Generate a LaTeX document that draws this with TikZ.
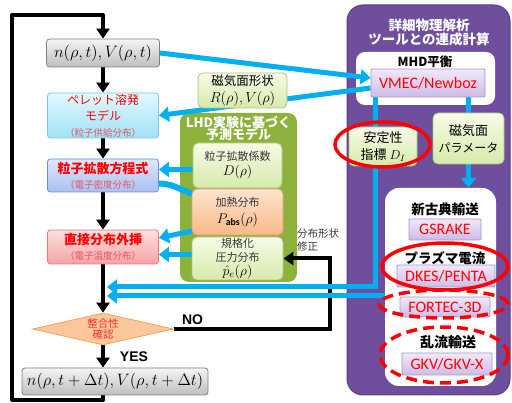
\RequirePackage{fix-cm}
\documentclass[tikz,border=0pt]{standalone}
\usepackage{fontspec}
\setmainfont{Carlito}
\newfontfamily\jp{Noto Sans CJK JP}
\newfontfamily\arialf{Liberation Sans}
\usetikzlibrary{shapes.geometric,arrows.meta}
\pgfdeclarelayer{back}\pgfdeclarelayer{mid}
\pgfsetlayers{back,mid,main}
\definecolor{blu}{RGB}{0,176,240}
\definecolor{purp}{RGB}{112,78,158}
\definecolor{purpd}{RGB}{92,62,130}
\definecolor{olive}{RGB}{140,178,60}
\definecolor{redt}{RGB}{255,0,0}
\definecolor{redp}{RGB}{232,84,96}
\definecolor{txt}{RGB}{55,55,55}
\newcommand\fz[2]{\fontsize{#1}{#2}\selectfont\lineskiplimit=-20pt\relax}
\begin{document}
\begin{tikzpicture}[x=1pt,y=-1pt,
  box/.style={draw, rounded corners=3pt, line width=0.8pt, align=center, inner sep=0pt},
  graybox/.style={box, draw={rgb,255:red,128;green,128;blue,128}, top color={rgb,255:red,244;green,244;blue,244}, bottom color={rgb,255:red,190;green,190;blue,190}},
  cyanbox/.style={box, draw={rgb,255:red,120;green,200;blue,230}, top color={rgb,255:red,226;green,248;blue,253}, bottom color={rgb,255:red,160;green,226;blue,246}},
  bluebox/.style={box, draw={rgb,255:red,110;green,140;blue,214}, top color={rgb,255:red,222;green,231;blue,251}, bottom color={rgb,255:red,170;green,192;blue,240}},
  pinkbox/.style={box, draw={rgb,255:red,224;green,122;blue,122}, top color={rgb,255:red,253;green,224;blue,224}, bottom color={rgb,255:red,245;green,163;blue,163}},
  greenbox/.style={box, rounded corners=5pt, draw={rgb,255:red,168;green,200;blue,110}, top color={rgb,255:red,246;green,251;blue,232}, bottom color={rgb,255:red,214;green,234;blue,170}},
  peachbox/.style={box, rounded corners=5pt, draw={rgb,255:red,232;green,160;blue,110}, top color={rgb,255:red,253;green,228;blue,206}, bottom color={rgb,255:red,248;green,184;blue,136}},
  toolbox/.style={box, rounded corners=1pt, draw={rgb,255:red,168;green,148;blue,200}, top color={rgb,255:red,240;green,232;blue,250}, bottom color={rgb,255:red,204;green,188;blue,230}, text=redt, font=\fz{16}{18}},
  blk/.style={line width=4pt, draw=black},
  blkarr/.style={blk, -{Triangle[width=13pt,length=10pt]}},
  bl/.style={line width=5pt, draw=blu},
  blarr/.style={bl, -{Triangle[width=15pt,length=10pt]}},
  ring/.style={ellipse, draw=redt, line width=3.5pt, inner sep=0pt},
  dring/.style={ring, dash pattern=on 11pt off 6pt},
  lbl/.style={font=\jp\bfseries\fz{13.5}{15}, inner sep=0pt}
]
\useasboundingbox (0,0) rectangle (512,403);

% containers
\begin{pgfonlayer}{back}
\node[fill=purp, draw=purpd, line width=1pt, rounded corners=16pt, minimum width=163pt, minimum height=390pt, inner sep=0pt] (tools) at (428.5,200) {};
\node[fill=white, rounded corners=9pt, minimum width=139pt, minimum height=53pt, inner sep=0pt] (mhdw) at (425.5,78.5) {};
\node[fill=white, rounded corners=14pt, minimum width=111pt, minimum height=198pt, inner sep=0pt] (lowerw) at (440.5,287) {};
\node[fill=olive, rounded corners=9pt, minimum width=117pt, minimum height=169pt, inner sep=0pt] (lhd) at (238.5,197.5) {};
\end{pgfonlayer}

\node[font=\jp\bfseries\fz{13.5}{14}, text=white, align=center, inner sep=0pt] (ttl) at (429,32) {詳細物理解析\\ツールとの連成計算};
\node[font=\jp\bfseries\fz{13}{12.5}, text=white, align=center, inner sep=0pt] (lhdt) at (238.5,128.5) {LHD実験に基づく\\予測モデル};
\node[font=\jp\bfseries\fz{12.5}{13}, inner sep=0pt] (mhdt) at (425,62) {MHD平衡};

% left column
\node[graybox, minimum width=113pt, minimum height=28pt, font=\fz{16.5}{18}] (nbox) at (103,53) {$n(\rho,t),V(\rho,t)$};
\node[cyanbox, minimum width=111pt, minimum height=45pt, font=\jp\fz{12}{16}, text=redt] (pellet) at (103,115.5) {ペレット溶発\\モデル\\\textcolor{redp}{\fz{9.5}{16}（粒子供給分布）}};
\node[bluebox, minimum width=111pt, minimum height=33pt, font=\jp\bfseries\fz{13}{15}, text=redt] (diff) at (103,175.5) {粒子拡散方程式\\\textcolor{redp}{\mdseries\fz{9.5}{15}（電子密度分布）}};
\node[pinkbox, minimum width=111pt, minimum height=34pt, font=\jp\bfseries\fz{13}{15}, text=redt] (extrap) at (103,247) {直接分布外挿\\\textcolor{redp}{\mdseries\fz{9.5}{15}（電子温度分布）}};
\node[diamond, aspect=4.4, draw={rgb,255:red,240;green,160;blue,100}, fill={rgb,255:red,252;green,200;blue,155}, line width=0.8pt, minimum width=141pt, minimum height=32pt, inner sep=0pt, font=\jp\fz{10.5}{11.5}, text={rgb,255:red,240;green,50;blue,50}, align=center] (dia) at (103,329) {整合性\\確認};
\node[graybox, minimum width=186pt, minimum height=27pt, font=\fz{16.5}{18}] (bot) at (115,381.5) {$n(\rho,t+\Delta t),V(\rho,t+\Delta t)$};

\node[font=\arialf\bfseries\fz{14}{16}, inner sep=0pt] (no) at (192.5,320) {NO};
\node[font=\arialf\bfseries\fz{14}{16}, inner sep=0pt] (yes) at (134,357) {YES};

% middle column
\node[greenbox, minimum width=89pt, minimum height=35pt, font=\jp\fz{12.5}{17}] (mag) at (242.5,90.5) {磁気面形状\\{\fz{14.5}{17}$R(\rho),V(\rho)$}};
\node[greenbox, minimum width=89pt, minimum height=45pt, font=\jp\fz{11}{15}, text=txt] (dco) at (237.5,165.5) {粒子拡散係数\\{\color{black}\fz{14}{15}$D(\rho)$}};
\node[peachbox, minimum width=91pt, minimum height=46pt, font=\jp\fz{11}{17}, text=txt] (pabs) at (237.5,212) {加熱分布\\{\color{black}\fz{14}{17}$P_{\mathbf{abs}}(\rho)$}};
\node[greenbox, minimum width=91pt, minimum height=43pt, font=\jp\fz{11}{14}, text=txt] (pe) at (237.5,258.5) {規格化\\圧力分布\\{\color{black}\fz{14}{14}$\hat{p}_e(\rho)$}};
\node[font=\jp\fz{10.5}{13}, text=txt, align=left, anchor=west, inner sep=0pt] (shape) at (297,240.5) {分布形状\\修正};

% right column
\node[toolbox, minimum width=114pt, minimum height=28pt] (vmec) at (428,83) {VMEC/Newboz};
\node[greenbox, minimum width=68pt, minimum height=39pt, font=\jp\fz{13}{17}] (stab) at (383,146.5) {安定性\\指標 {\fz{13}{17}$D_I$}};
\node[greenbox, minimum width=71pt, minimum height=51pt, font=\jp\fz{13}{17}] (magp) at (468.5,138.5) {磁気面\\{\fz{12}{17}パラメータ}};
\node[lbl] (neo) at (445,209) {新古典輸送};
\node[toolbox, minimum width=72pt, minimum height=21pt] (gsr) at (445,229.5) {GSRAKE};
\node[lbl] (pcur) at (445,258) {プラズマ電流};
\node[toolbox, minimum width=98pt, minimum height=22pt] (dkes) at (446,276) {DKES/PENTA};
\node[toolbox, minimum width=90pt, minimum height=20pt] (fort) at (445,307) {FORTEC-3D};
\node[lbl, font=\jp\bfseries\fz{14}{15}] (turb) at (448,342) {乱流輸送};
\node[toolbox, minimum width=90pt, minimum height=22pt] (gkv) at (447,364) {GKV/GKV-X};

% rings
\node[ring, minimum width=95pt, minimum height=45pt] (ring1) at (382.5,144.5) {};
\node[ring, minimum width=126pt, minimum height=47pt] (ring2) at (445,266.5) {};
\node[dring, minimum width=129pt, minimum height=28pt] (ring3) at (443.5,304) {};
\node[dring, minimum width=128pt, minimum height=56pt] (ring4) at (444,355) {};

% coordinates
\coordinate (lb) at (12,400);
\coordinate (lt) at (12,15);
\coordinate (fb) at (330,329);
\coordinate (ub) at (375,287);
\coordinate (lw) at (385,296);
\coordinate (tipx) at (107,0);

\begin{pgfonlayer}{mid}
% black flow
\draw[blk, line join=round] (bot.south -| nbox.north) |- (lb) |- (nbox.north |- lt) -- ([yshift=8pt]nbox.north);
\draw[blkarr] ([yshift=8pt]nbox.north) -- (nbox.north);
\draw[blkarr] (nbox.south) -- (pellet.north);
\draw[blkarr] (pellet.south) -- (diff.north);
\draw[blkarr] (diff.south) -- (extrap.north);
\draw[blkarr] (extrap.south) -- (dia.north);
\draw[blkarr] (dia.south) -- (dia.south |- bot.north);
\draw[blk] (dia.east) -- (fb) |- ([xshift=10pt]pe.east);
\draw[blkarr] ([xshift=10pt]pe.east) -- (pe.east);
% blue
\draw[blarr] (nbox.east) -- ([yshift=5pt]vmec.west);
\draw[blarr] ([yshift=-5pt]vmec.west) -- (pellet.east);
\draw[blarr] ([yshift=-4pt]dco.west) -- ([yshift=-4pt]dco.west -| diff.east);
\draw[bl, line width=6pt] ([yshift=-8pt]diff.east) to[out=0,in=170] ([xshift=8pt,yshift=-7pt]pabs.north west);
\draw[blarr] ([xshift=3pt,yshift=5pt]pabs.south west) -- ([yshift=9pt]extrap.east);
\draw[blarr] ([yshift=4pt]pe.west) -- ([yshift=4pt]pe.west -| extrap.east);
\draw[blarr] (vmec.south -| ub) -- (ub) -- (ub -| tipx);
\draw[blarr] (lw) -- (lw -| tipx);
\draw[bl] (vmec.south -| magp.north) -- (magp.north);
\draw[blarr] (magp.south) -- (magp.south |- lowerw.north);
\end{pgfonlayer}
\end{tikzpicture}
\end{document}
